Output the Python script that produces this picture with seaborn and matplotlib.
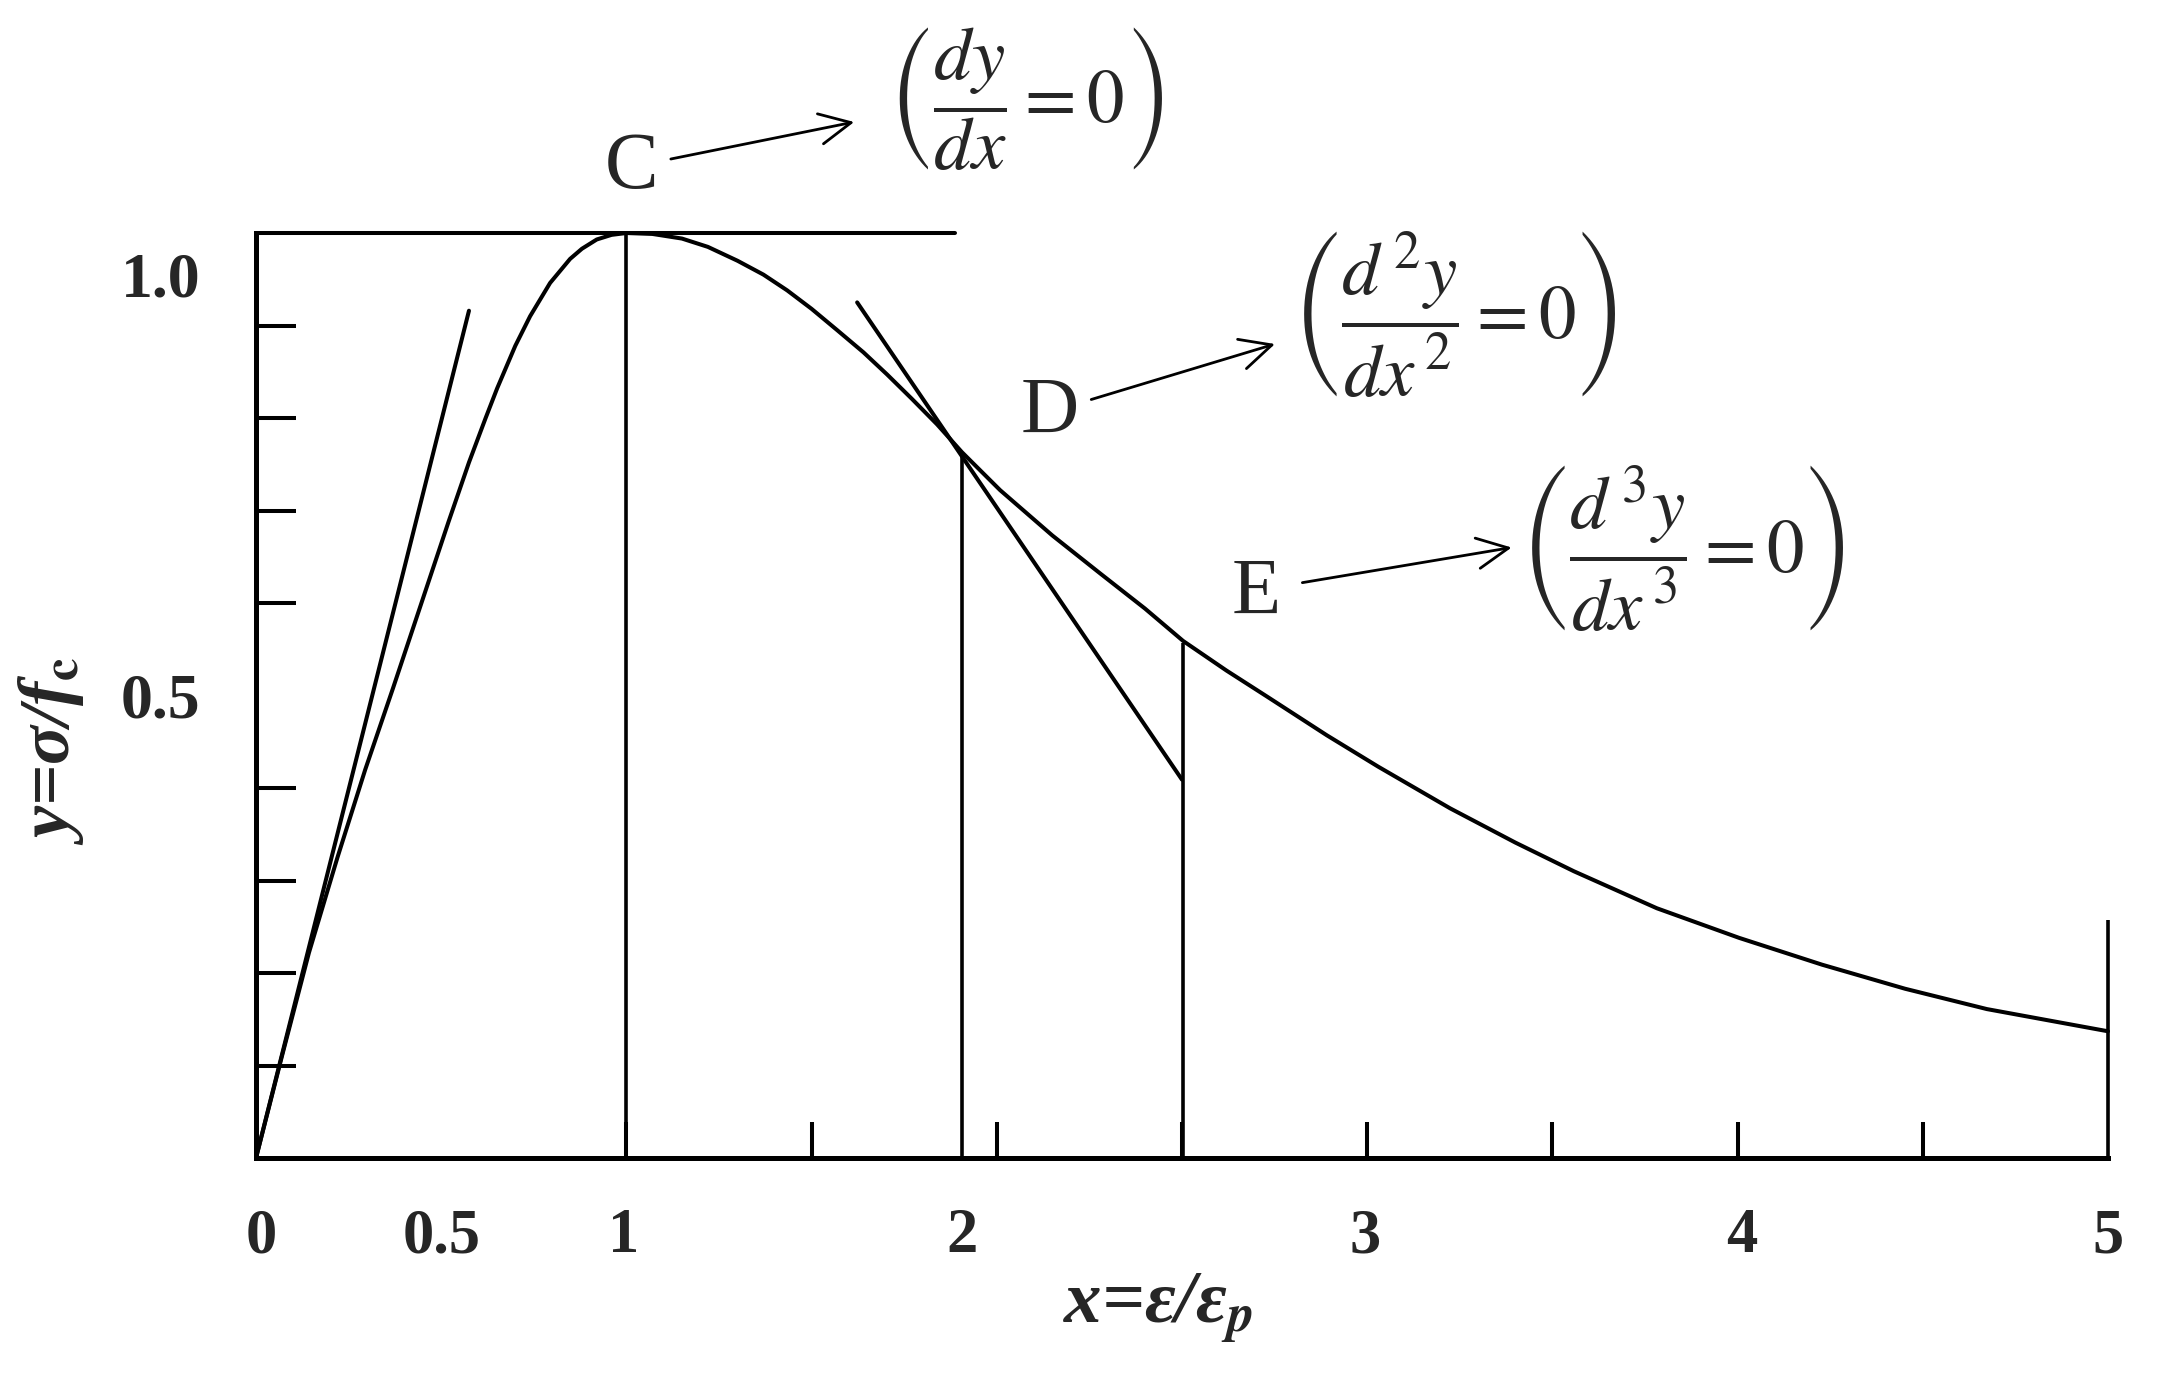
import numpy as np
import seaborn as sns
import matplotlib as mpl
import matplotlib.pyplot as plt

# stress-strain curve (x = eps/eps_p, y = sigma/fc)
x_curve = [0.0, 0.07, 0.143, 0.22, 0.295, 0.37, 0.445, 0.52, 0.575, 0.62, 0.651,
           0.70, 0.740, 0.794, 0.848, 0.88, 0.92, 0.96, 1.0, 1.07, 1.15, 1.22, 1.30,
           1.37, 1.434, 1.50, 1.569, 1.64, 1.704, 1.77, 1.839, 1.906, 2.009, 2.15,
           2.279, 2.40, 2.503, 2.62, 2.729, 2.891, 3.03, 3.224, 3.40, 3.558, 3.782,
           4.004, 4.228, 4.452, 4.673, 4.85, 5.0]
y_curve = [0.0, 0.11, 0.222, 0.325, 0.42, 0.508, 0.598, 0.688, 0.752, 0.80, 0.832,
           0.878, 0.910, 0.946, 0.972, 0.983, 0.993, 0.998, 1.0, 0.999, 0.994, 0.985,
           0.970, 0.955, 0.938, 0.918, 0.895, 0.871, 0.847, 0.821, 0.793, 0.763, 0.722,
           0.673, 0.632, 0.594, 0.559, 0.527, 0.499, 0.457, 0.423, 0.378, 0.341, 0.310,
           0.270, 0.238, 0.209, 0.183, 0.161, 0.148, 0.137]

# tangent lines
tan0_x = [0.0, 0.575]
tan0_y = [0.0, 0.916]
tanD_x = [1.623, 2.5]
tanD_y = [0.925, 0.409]
peak_line_x = [0.0, 1.887]
peak_line_y = [1.0, 1.0]

# vertical markers (x position, height)
vert_x = [1.0, 1.906, 2.503, 5.0]
vert_h = [1.0, 0.762, 0.557, 0.257]

# tick labels (positions as drawn in the figure)
xlab_pos = [0.015, 0.5, 0.993, 1.905, 2.995, 4.01, 5.0]
xlab_txt = ["0", "0.5", "1", "2", "3", "4", "5"]
ylab_pos = [0.5, 0.955]
ylab_txt = ["0.5", "1.0"]
xminor = [0.5, 1.0, 1.5, 2.0, 2.5, 3.0, 3.5, 4.0, 4.5]
yminor = [0.1, 0.2, 0.3, 0.4, 0.5, 0.6, 0.7, 0.8, 0.9]

# annotations: letter, letter pos, arrow tail, arrow head, formula, formula pos
points = ["C", "D", "E"]
point_xy = [(1.015, 1.07), (2.144, 0.805), (2.70, 0.609)]
arrow_tail = [(1.12, 1.08), (2.255, 0.82), (2.825, 0.622)]
arrow_head = [(1.615, 1.12), (2.751, 0.88), (3.39, 0.66)]
formulas = [r"$\left(\dfrac{dy}{dx}=0\right)$",
            r"$\left(\dfrac{d^{\,2}y}{dx^{\,2}}=0\right)$",
            r"$\left(\dfrac{d^{\,3}y}{dx^{\,3}}=0\right)$"]
formula_xy = [(2.077, 1.145), (3.234, 0.912), (3.848, 0.66)]

sns.set_style("ticks")
mpl.rcParams["font.family"] = "Liberation Serif"
mpl.rcParams["mathtext.fontset"] = "stix"

fig = plt.figure(figsize=(21.61, 13.78), dpi=100)
ax = fig.add_axes([0.11846, 0.15965, 0.85701, 0.67126])

lw = 2.9
kw = dict(sort=False, color="black", lw=lw, ax=ax, solid_joinstyle="round")
sns.lineplot(x=x_curve, y=y_curve, **kw)
sns.lineplot(x=tan0_x, y=tan0_y, **kw)
sns.lineplot(x=tanD_x, y=tanD_y, **kw)
sns.lineplot(x=peak_line_x, y=peak_line_y, **kw)
ax.vlines(vert_x, 0, vert_h, color="black", lw=2.6)
for ln in ax.lines + ax.collections:
    ln.set_clip_on(False)

ax.set_xlim(0, 5)
ax.set_ylim(0, 1.0)
sns.despine(ax=ax)
for s in ["left", "bottom"]:
    ax.spines[s].set_linewidth(3.6)
    ax.spines[s].set_color("black")

ax.set_xticks(xlab_pos, xlab_txt)
ax.set_yticks(ylab_pos, ylab_txt)
ax.set_xticks(xminor, minor=True)
ax.set_yticks(yminor, minor=True)
ax.tick_params(which="major", length=0)
ax.tick_params(axis="x", which="major", pad=36, labelsize=45)
ax.tick_params(axis="y", which="major", pad=40, labelsize=46)
ax.tick_params(axis="x", which="minor", direction="in", length=26, width=2.9, color="black")
ax.tick_params(axis="y", which="minor", direction="in", length=29, width=2.9, color="black")
for t in ax.get_xticklabels() + ax.get_yticklabels():
    t.set_fontweight("bold")

ax.set_xlabel(r"x=ε/ε$_\mathbfit{p}$", fontsize=54, fontweight="bold", fontstyle="italic")
ax.xaxis.set_label_coords(0.487, -0.122)
ax.set_ylabel(r"y=σ/f$_\mathbf{c}$", fontsize=52, fontweight="bold", fontstyle="italic")
ax.yaxis.set_label_coords(-0.092, 0.44)

for name, pxy, tail, head, f, fxy in zip(points, point_xy, arrow_tail, arrow_head,
                                         formulas, formula_xy):
    ax.text(pxy[0], pxy[1], name, fontsize=58, ha="center", va="center")
    ax.annotate("", xy=head, xytext=tail, annotation_clip=False,
                arrowprops=dict(arrowstyle="->,head_length=0.45,head_width=0.22",
                                lw=2, color="black", mutation_scale=50,
                                shrinkA=0, shrinkB=0))
    ax.text(fxy[0], fxy[1], f, fontsize=54, ha="center", va="center")

fig.savefig("out.png", dpi=100, facecolor="white")
